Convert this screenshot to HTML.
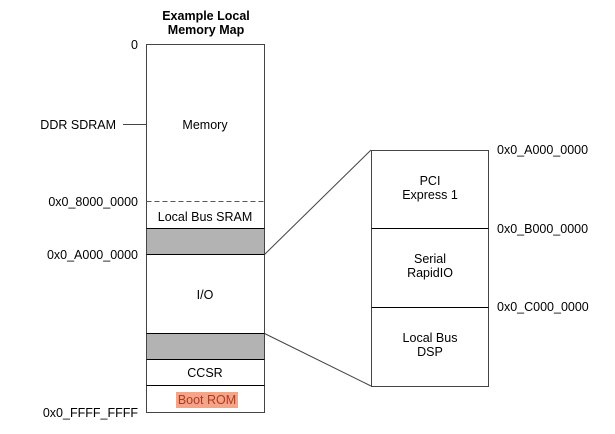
<!DOCTYPE html>
<html><head><meta charset="utf-8"><style>
html,body{margin:0;padding:0;background:#fff;}
svg{display:block;font-family:"Liberation Sans",Arial,sans-serif;}
</style></head><body>
<svg width="615" height="434" viewBox="0 0 615 434" xmlns="http://www.w3.org/2000/svg">
<g font-size="12.5" fill="#000">
<text x="206" y="20" text-anchor="middle" font-weight="bold">Example Local</text>
<text x="206" y="34" text-anchor="middle" font-weight="bold">Memory Map</text>
</g>
<rect x="146.5" y="228.5" width="118" height="26" fill="#b3b3b3"/>
<rect x="146.5" y="333.5" width="118" height="26" fill="#b3b3b3"/>
<g stroke="#000" stroke-width="1" fill="none">
<path d="M146.5 44.5 H264.5 V412.5 H146.5 Z" stroke="#444"/>
<line x1="146.5" y1="201.5" x2="264.5" y2="201.5" stroke="#555" stroke-dasharray="5,3"/>
<line x1="146.5" y1="228.5" x2="264.5" y2="228.5"/>
<line x1="146.5" y1="254.5" x2="264.5" y2="254.5"/>
<line x1="146.5" y1="333.5" x2="264.5" y2="333.5"/>
<line x1="146.5" y1="359.5" x2="264.5" y2="359.5"/>
<line x1="146.5" y1="385.5" x2="264.5" y2="385.5"/>
<line x1="123" y1="124.5" x2="146" y2="124.5" stroke="#444"/>
<line x1="264.5" y1="254.5" x2="371" y2="150" stroke="#444"/>
<line x1="264.5" y1="333.5" x2="371" y2="386" stroke="#444"/>
<rect x="371.5" y="150.5" width="117" height="236" stroke="#444"/>
<line x1="371.5" y1="228.5" x2="488.5" y2="228.5"/>
<line x1="371.5" y1="307.5" x2="488.5" y2="307.5"/>
</g>
<rect x="176" y="392" width="62" height="16" fill="#f4a488"/>
<g font-size="12.5" fill="#000">
<text x="138" y="49" text-anchor="end">0</text>
<text x="116" y="129" text-anchor="end">DDR SDRAM</text>
<text x="138" y="206" text-anchor="end">0x0_8000_0000</text>
<text x="138" y="259" text-anchor="end">0x0_A000_0000</text>
<text x="138" y="417" text-anchor="end">0x0_FFFF_FFFF</text>
<text x="205" y="129" text-anchor="middle">Memory</text>
<text x="205" y="221" text-anchor="middle">Local Bus SRAM</text>
<text x="205" y="299" text-anchor="middle">I/O</text>
<text x="205" y="377" text-anchor="middle">CCSR</text>
<text x="207" y="404" text-anchor="middle" fill="#b03a20">Boot ROM</text>
<text x="430" y="185" text-anchor="middle">PCI</text>
<text x="430" y="199" text-anchor="middle">Express 1</text>
<text x="430" y="263" text-anchor="middle">Serial</text>
<text x="430" y="277" text-anchor="middle">RapidIO</text>
<text x="430" y="342" text-anchor="middle">Local Bus</text>
<text x="430" y="356" text-anchor="middle">DSP</text>
<text x="497" y="154">0x0_A000_0000</text>
<text x="497" y="233">0x0_B000_0000</text>
<text x="497" y="311">0x0_C000_0000</text>
</g>
</svg>
</body></html>
